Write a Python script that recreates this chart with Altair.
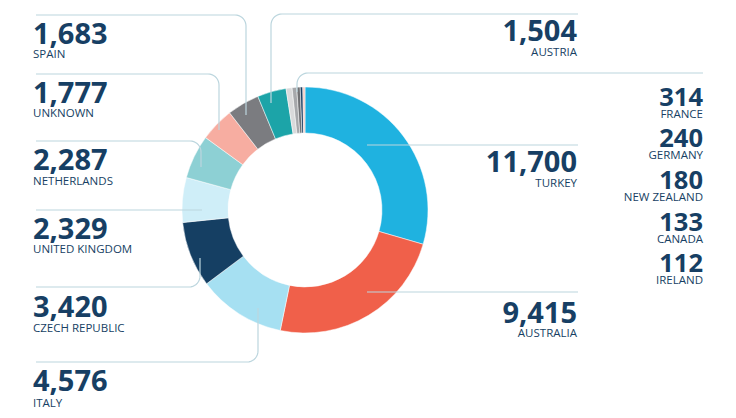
import altair as alt
import numpy as np
import pandas as pd

# ---- data ----
countries = ["Turkey", "Australia", "Italy", "Czech Republic", "United Kingdom",
             "Netherlands", "Unknown", "Spain", "Austria", "France", "Germany",
             "New Zealand", "Canada", "Ireland"]
values = [11700, 9415, 4576, 3420, 2329, 2287, 1777, 1683, 1504, 314, 240, 180, 133, 112]

# ---- styles ----
colors = ["#1fb2e0", "#f0604a", "#a6e0f2", "#153f63", "#cfeef8", "#8dd0d4",
          "#f7ada1", "#7b7c80", "#1ca4a8", "#d9dadb", "#a6a8ab", "#6f7073",
          "#1c3f63", "#f6c9c0"]
TEXT = "#173f64"
LINE = "#bcd6de"

# ---- layout (page pixels) ----
lab_x =     [577, 577, 33, 33, 33, 33, 33, 33, 577, 703, 703, 703, 703, 703]
num_y =     [172, 323, 391, 317, 239, 170, 103, 44, 41, 106, 147, 189, 231, 272]
lab_y =     [187, 337, 407, 332, 253, 185, 117, 58, 56, 118, 159, 201, 243, 284]
num_size =  [29, 29, 29, 29, 29, 29, 29, 29, 29, 25.5, 25.5, 25.5, 25.5, 25.5]
side =      ["R", "R", "L", "L", "L", "L", "L", "L", "R", "R", "R", "R", "R", "R"]

# leader lines: start x, horizontal y, vertical x, end y (None = straight)
leaders = {
    "Turkey":         (578, 145, 367, None),
    "Australia":      (578, 292, 367, None),
    "Italy":          (36, 362, 258, 308),
    "Czech Republic": (36, 287, 200, 258),
    "United Kingdom": (36, 210, 202, None),
    "Netherlands":    (36, 141, 201, 167),
    "Unknown":        (36, 74, 219, 130),
    "Spain":          (36, 15, 246, 115),
    "Austria":        (578, 14, 271, 103),
    "France":         (703, 73, 297, 92),
}
CORNER = 11
CX, CY = 305, 210

rows = []
for name, (sx, hy, vx, ey) in leaders.items():
    pts = [(sx, hy)]
    if ey is None:
        pts.append((vx, hy))
    else:
        dx = np.sign(vx - sx)
        dy = np.sign(ey - hy)
        r = CORNER
        cx, cy = vx - dx * r, hy + dy * r
        for t in np.linspace(0, np.pi / 2, 10):
            pts.append((cx + dx * r * np.sin(t), cy - dy * r * np.cos(t)))
        pts.append((vx, ey))
    for i, (px, py) in enumerate(pts):
        rows.append({"id": name, "seq": i, "x": px, "y": py})
lines_df = pd.DataFrame(rows)

df = pd.DataFrame({
    "country": countries,
    "value": values,
    "idx": list(range(len(countries))),
    "num": [f"{v:,}" for v in values],
    "label": [c.upper() for c in countries],
    "lx": lab_x,
    "ny": num_y,
    "ly": lab_y,
    "nsize": num_size,
    "side": side,
})

W, H = 720, 402
xs = alt.Scale(domain=[8, 8 + W], range=[0, W])
ys = alt.Scale(domain=[8, 8 + H], range=[0, H])

donut = alt.Chart(df).mark_arc(innerRadius=77, outerRadius=123, stroke="#ffffff",
                               strokeWidth=0.5).encode(
    theta=alt.Theta("value:Q", stack=True),
    color=alt.Color("country:N", scale=alt.Scale(domain=countries, range=colors), legend=None),
    order=alt.Order("idx:Q"),
    x=alt.value(CX - 8),
    y=alt.value(CY - 8),
)

leader = alt.Chart(lines_df).mark_line(color=LINE, strokeWidth=1.2).encode(
    x=alt.X("x:Q", scale=xs, axis=None),
    y=alt.Y("y:Q", scale=ys, axis=None),
    detail="id:N",
    order="seq:Q",
)

def texts(sd, align):
    base = alt.Chart(df).transform_filter(alt.datum.side == sd)
    nums = base.mark_text(align=align, baseline="alphabetic", font="Open Sans",
                          fontWeight="bold", color=TEXT).encode(
        x=alt.X("lx:Q", scale=xs, axis=None),
        y=alt.Y("ny:Q", scale=ys, axis=None),
        text="num:N",
        size=alt.Size("nsize:Q", scale=None, legend=None),
    )
    labs = base.mark_text(align=align, baseline="alphabetic", font="Open Sans",
                          fontSize=11.5, color=TEXT).encode(
        x=alt.X("lx:Q", scale=xs, axis=None),
        y=alt.Y("ly:Q", scale=ys, axis=None),
        text="label:N",
    )
    return nums + labs

chart = alt.layer(donut, leader, texts("L", "left"), texts("R", "right")).properties(
    width=W, height=H, padding=0, autosize=alt.AutoSizeParams(type="none"),
    background="#ffffff",
).configure_view(stroke=None)

chart.save("out.html", embed_options={"renderer": "svg", "actions": False})
